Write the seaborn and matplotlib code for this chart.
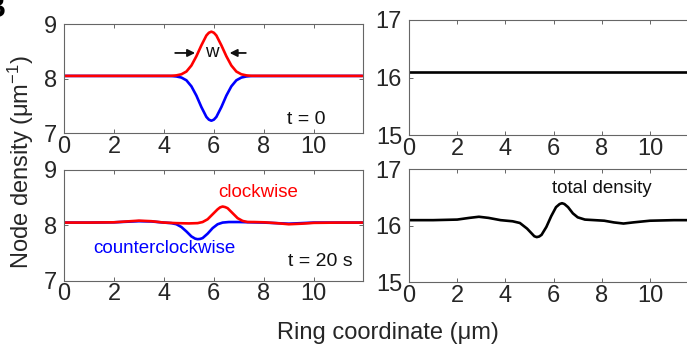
import matplotlib
matplotlib.use("Agg")
import matplotlib.pyplot as plt
import seaborn as sns

# ---------------- data ----------------
x_t0 = [0, 4.3, 4.5, 4.7, 4.9, 5.1, 5.3, 5.5, 5.7, 5.8, 5.9, 6.0, 6.1, 6.3, 6.5, 6.7, 6.9, 7.1, 7.3, 7.5, 11.95]
cw_t0 = [8.05, 8.052, 8.06, 8.08, 8.13, 8.24, 8.41, 8.61, 8.79, 8.84, 8.86, 8.84, 8.79, 8.61, 8.41, 8.24, 8.13, 8.08, 8.06, 8.052, 8.05]
ccw_t0 = [8.05, 8.048, 8.04, 8.02, 7.97, 7.86, 7.69, 7.48, 7.30, 7.25, 7.23, 7.25, 7.30, 7.48, 7.69, 7.86, 7.97, 8.02, 8.04, 8.048, 8.05]

x_total_t0 = [0, 11.95]
total_t0 = [16.1, 16.1]

x_cw_t20 = [0, 1.0, 2.0, 2.5, 3.0, 3.5, 4.0, 4.5, 5.0, 5.35, 5.55, 5.75, 5.95, 6.15, 6.25, 6.35, 6.45, 6.55, 6.75, 6.95, 7.15, 7.35, 7.6, 8.0, 8.5, 9.0, 9.5, 10.0, 11.0, 11.95]
cw_t20 = [8.05, 8.05, 8.055, 8.07, 8.085, 8.075, 8.05, 8.04, 8.035, 8.04, 8.06, 8.11, 8.20, 8.29, 8.325, 8.34, 8.33, 8.31, 8.22, 8.13, 8.08, 8.06, 8.06, 8.055, 8.04, 8.02, 8.03, 8.045, 8.05, 8.05]
x_ccw_t20 = [0, 1.0, 2.0, 2.5, 3.0, 3.5, 4.0, 4.3, 4.5, 4.7, 4.9, 5.1, 5.25, 5.35, 5.45, 5.55, 5.75, 5.95, 6.15, 6.35, 6.6, 7.0, 7.5, 8.0, 8.5, 9.0, 9.5, 10.0, 11.0, 11.95]
ccw_t20 = [8.05, 8.05, 8.055, 8.065, 8.075, 8.07, 8.05, 8.04, 8.02, 7.97, 7.89, 7.80, 7.76, 7.75, 7.755, 7.77, 7.85, 7.95, 8.02, 8.05, 8.06, 8.06, 8.055, 8.05, 8.04, 8.03, 8.04, 8.05, 8.05, 8.05]

x_total_t20 = [0, 1.0, 2.0, 2.5, 2.9, 3.3, 3.8, 4.3, 4.6, 4.9, 5.1, 5.2, 5.3, 5.4, 5.5, 5.7, 5.9, 6.1, 6.25, 6.35, 6.45, 6.6, 6.8, 7.0, 7.3, 7.7, 8.1, 8.5, 8.9, 9.3, 10.0, 11.0, 11.95]
total_t20 = [16.1, 16.1, 16.11, 16.14, 16.16, 16.14, 16.1, 16.08, 16.05, 15.95, 15.86, 15.815, 15.80, 15.81, 15.84, 15.98, 16.17, 16.33, 16.385, 16.40, 16.385, 16.33, 16.22, 16.15, 16.11, 16.10, 16.09, 16.06, 16.04, 16.06, 16.09, 16.1, 16.1]

x_ticks = [0, 2, 4, 6, 8, 10]
left_yticks = [7, 8, 9]
right_yticks = [15, 16, 17]

# ---------------- style ----------------
sns.set_theme(style="white")
plt.rcParams["font.family"] = ["Liberation Sans", "DejaVu Sans"]
plt.rcParams["mathtext.fontset"] = "custom"
plt.rcParams["mathtext.rm"] = "Liberation Sans"
plt.rcParams["mathtext.it"] = "Liberation Sans:italic"

W, H = 687, 351
fig = plt.figure(figsize=(W / 100, H / 100), dpi=100)


def px_axes(x0, y0, x1, y1):
    return fig.add_axes([x0 / W, 1 - y1 / H, (x1 - x0) / W, (y1 - y0) / H])


ax_tl = px_axes(64, 24, 362.5, 133.3)
ax_tr = px_axes(409, 20, 697, 135)
ax_bl = px_axes(64, 170, 362.5, 280.7)
ax_br = px_axes(409, 169.3, 697, 282.3)

LW = 1.9
sns.lineplot(x=x_t0, y=ccw_t0, ax=ax_tl, color="#0000ff", lw=LW, sort=False)
sns.lineplot(x=x_t0, y=cw_t0, ax=ax_tl, color="#ff0000", lw=LW, sort=False)
sns.lineplot(x=x_total_t0, y=total_t0, ax=ax_tr, color="black", lw=LW, sort=False)
sns.lineplot(x=x_ccw_t20, y=ccw_t20, ax=ax_bl, color="#0000ff", lw=LW, sort=False)
sns.lineplot(x=x_cw_t20, y=cw_t20, ax=ax_bl, color="#ff0000", lw=LW, sort=False)
sns.lineplot(x=x_total_t20, y=total_t20, ax=ax_br, color="black", lw=LW, sort=False)

for ax, yt in [(ax_tl, left_yticks), (ax_bl, left_yticks), (ax_tr, right_yticks), (ax_br, right_yticks)]:
    ax.set_xlim(0, 11.95)
    ax.set_ylim(yt[0], yt[-1])
    ax.set_xticks(x_ticks)
    ax.set_yticks(yt)
    ax.set_xlabel("")
    ax.set_ylabel("")
    for s in ax.spines.values():
        s.set_color("#666666")
        s.set_linewidth(0.8)
        s.set_visible(True)
    ax.tick_params(direction="in", top=True, right=True, bottom=True, left=True,
                   length=3, width=0.7, color="#666666", labelsize=17,
                   labelcolor="#262626")
    ax.tick_params(axis="x", pad=2)
    ax.tick_params(axis="y", pad=5)

# annotations
ax_tl.text(10.48, 7.26, "t = 0", ha="right", va="center", fontsize=14, color="#111111")
ax_tl.text(5.9, 8.47, "w", ha="center", va="center", fontsize=13.5, color="#111111")
ax_tl.annotate("", xy=(5.36, 8.47), xytext=(4.34, 8.47),
               arrowprops=dict(arrowstyle="-|>", color="#111111", lw=1.3, mutation_scale=11))
ax_tl.annotate("", xy=(6.52, 8.47), xytext=(7.39, 8.47),
               arrowprops=dict(arrowstyle="-|>", color="#111111", lw=1.3, mutation_scale=11))

ax_bl.text(7.77, 8.59, "clockwise", ha="center", va="center", fontsize=13.5, color="#ff0000")
ax_bl.text(4.02, 7.59, "counterclockwise", ha="center", va="center", fontsize=13.5, color="#0000ff")
ax_bl.text(8.96, 7.34, "t = 20 s", ha="left", va="center", fontsize=14, color="#111111")

ax_br.text(8.0, 16.66, "total density", ha="center", va="center", fontsize=13.5, color="#111111")

fig.text(387.5 / W, 1 - 333 / H, "Ring coordinate (μm)", ha="center", va="center",
         fontsize=17, color="#262626")
fig.text(21 / W, 1 - 162 / H, r"Node density (μm$^{-1}$)", ha="center", va="center",
         rotation=90, fontsize=17, color="#262626")
fig.text(6 / W, 1 - 17 / H, "B", ha="right", va="baseline", fontsize=22,
         fontweight="bold", color="black")

fig.savefig("out.png", dpi=100)
